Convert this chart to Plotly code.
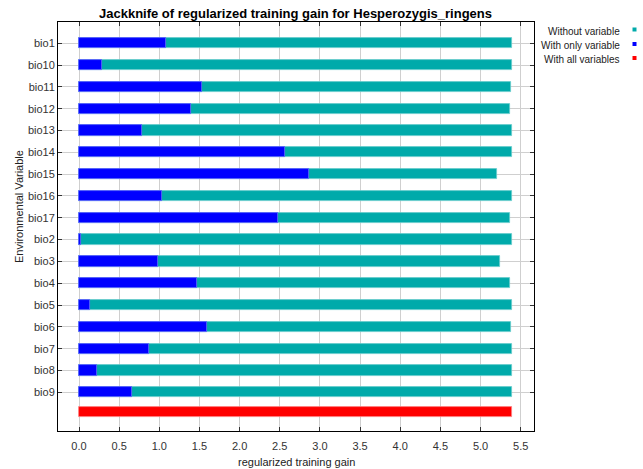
import plotly.graph_objects as go

# Jackknife results (regularized training gain) for Hesperozygis_ringens
variables = ["bio1", "bio10", "bio11", "bio12", "bio13", "bio14", "bio15", "bio16",
             "bio17", "bio2", "bio3", "bio4", "bio5", "bio6", "bio7", "bio8", "bio9"]
gain_without = [5.39, 5.39, 5.38, 5.37, 5.39, 5.39, 5.20, 5.39,
                5.37, 5.39, 5.24, 5.37, 5.39, 5.38, 5.39, 5.39, 5.39]
gain_only = [1.08, 0.29, 1.53, 1.39, 0.78, 2.56, 2.86, 1.03,
             2.48, 0.02, 0.98, 1.47, 0.14, 1.60, 0.87, 0.22, 0.66]
gain_all = 5.39

x_ticks = [0.0, 0.5, 1.0, 1.5, 2.0, 2.5, 3.0, 3.5, 4.0, 4.5, 5.0, 5.5]

TEAL = "#00AAAA"
BLUE = "#0000FF"
RED = "#FF0000"
FONT = "Liberation Sans, Arial, sans-serif"

rows = list(range(len(variables)))
all_row = len(variables) - 0.11   # the "all variables" bar sits just under the last row
bar_w = 0.47

fig = go.Figure()
fig.add_trace(go.Bar(
    y=rows, x=gain_without, orientation="h", width=bar_w,
    marker=dict(color=TEAL, line=dict(color="#66CCCC", width=0.8)),
    name="Without variable", showlegend=False,
))
fig.add_trace(go.Bar(
    y=rows, x=gain_only, orientation="h", width=bar_w,
    marker=dict(color=BLUE, line=dict(color="#6666FF", width=0.8)),
    name="With only variable", showlegend=False,
))
fig.add_trace(go.Bar(
    y=[all_row], x=[gain_all], orientation="h", width=bar_w,
    marker=dict(color=RED, line=dict(color="#FF8080", width=0.8)),
    name="With all variables", showlegend=False,
))

W, H = 643, 469
L, R, T, B = 58, 534, 22, 431


def px_x(p):
    return (p - L) / (R - L)


def px_y(p):
    return (B - p) / (B - T)


axis_common = dict(
    showline=True, linecolor="#000000", linewidth=1, mirror="allticks",
    ticks="inside", ticklen=4, tickcolor="#333333", tickwidth=1,
    showgrid=True, gridcolor="#CFCFCF", gridwidth=1, zeroline=False,
    tickfont=dict(family=FONT, size=11, color="#333333"),
)

fig.update_layout(
    width=W, height=H,
    margin=dict(l=L, r=W - R, t=T, b=H - B, pad=0),
    paper_bgcolor="white", plot_bgcolor="white",
    barmode="overlay", bargap=0,
    font=dict(family=FONT, size=11, color="#222222"),
    xaxis=dict(range=[-0.2615, 5.666], tickvals=x_ticks,
               ticktext=[f"{v:.1f}" for v in x_ticks], ticklabelstandoff=5,
               **axis_common),
    yaxis=dict(range=[17.775, -0.977], tickvals=rows, ticktext=variables,
               ticklabelstandoff=0, **axis_common),
)

# title and axis labels
fig.add_annotation(text="<b>Jackknife of regularized training gain for Hesperozygis_ringens</b>",
                   xref="paper", yref="paper", x=px_x(295), y=px_y(13),
                   xanchor="center", yanchor="middle", showarrow=False,
                   font=dict(family=FONT, size=13, color="#000000"))
fig.add_annotation(text="regularized training gain", xref="paper", yref="paper",
                   x=px_x(296), y=px_y(462), xanchor="center", yanchor="middle",
                   showarrow=False, font=dict(family=FONT, size=11, color="#222222"))
fig.add_annotation(text="Environmental Variable", xref="paper", yref="paper",
                   x=px_x(19), y=px_y(207), xanchor="center", yanchor="middle",
                   textangle=-90, showarrow=False,
                   font=dict(family=FONT, size=11, color="#222222"))

# legend: right-aligned labels with a small colour square to the right
legend_items = [("Without variable", TEAL, 31), ("With only variable", BLUE, 45.5),
                ("With all variables", RED, 59.5)]
for label, color, ypix in legend_items:
    fig.add_annotation(text=label, xref="paper", yref="paper",
                       x=px_x(622), y=px_y(ypix), xanchor="right", yanchor="middle",
                       showarrow=False, font=dict(family=FONT, size=10, color="#222222"))
    fig.add_shape(type="rect", xref="paper", yref="paper",
                  x0=px_x(632.5), x1=px_x(636.5), y0=px_y(ypix + 0.5), y1=px_y(ypix - 3.5),
                  fillcolor=color, line=dict(width=0))

fig.write_html("out.html")
